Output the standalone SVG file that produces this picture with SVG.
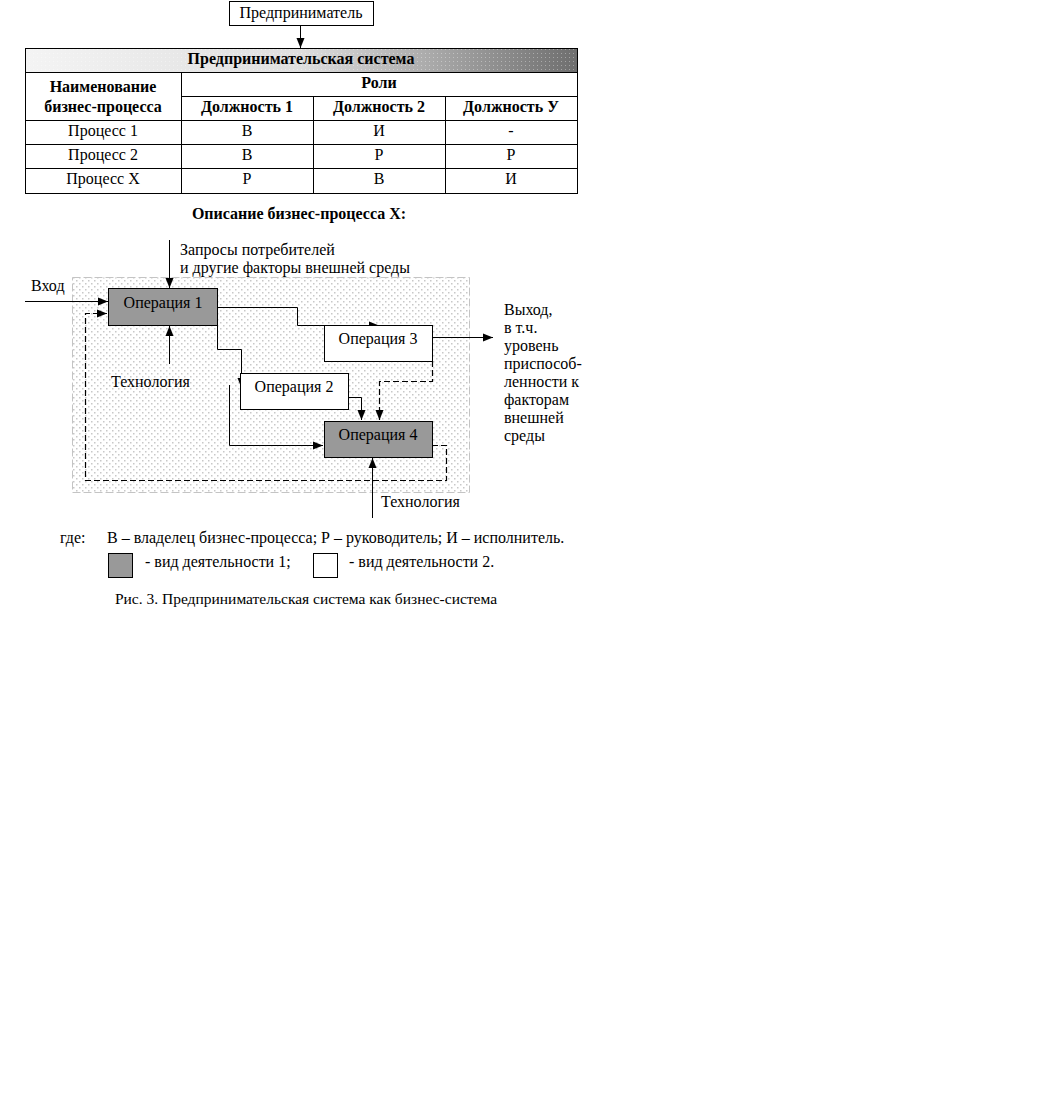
<svg xmlns="http://www.w3.org/2000/svg" width="1060" height="1102" viewBox="0 0 1060 1102">
<style>
text{font-family:"Liberation Serif","Times New Roman",serif;font-size:16px;fill:#000}
.b{font-weight:bold}
.c{text-anchor:middle}
.ln{stroke:#000;stroke-width:1;fill:none}
.dash{stroke:#000;stroke-width:1.2;fill:none;stroke-dasharray:6 3}
.op1{fill:#999;stroke:#000;stroke-width:1}
.op2{fill:#fff;stroke:#000;stroke-width:1}
</style>
<defs>
<pattern id="dots" width="6" height="6" patternUnits="userSpaceOnUse">
<rect x="1" y="1" width="1.5" height="1.5" fill="#c8c8c8"/>
<rect x="4" y="4" width="1.5" height="1.5" fill="#c8c8c8"/>
</pattern>
<pattern id="dots2" width="4" height="4" patternUnits="userSpaceOnUse">
<rect x="1" y="1" width="1" height="1" fill="#fff" fill-opacity="0.35"/>
</pattern>
<linearGradient id="hdr" x1="0" y1="0" x2="1" y2="0">
<stop offset="0" stop-color="#f4f4f4"/>
<stop offset="0.5" stop-color="#dedede"/>
<stop offset="1" stop-color="#6e6e6e"/>
</linearGradient>
<marker id="ar" viewBox="0 0 10 10" refX="10" refY="5" markerWidth="10" markerHeight="10" markerUnits="userSpaceOnUse" orient="auto">
<path d="M0,1 L10,5 L0,9 z" fill="#000"/>
</marker>
</defs>
<rect width="1060" height="1102" fill="#fff"/>

<g id="entrepreneur">
<rect x="229.5" y="1.5" width="144" height="24" fill="#fff" stroke="#000"/>
<text x="301" y="18" class="c">Предприниматель</text>
</g>

<g id="table">
<rect x="25.5" y="48.5" width="552" height="24" fill="url(#hdr)"/>
<rect x="25.5" y="48.5" width="552" height="24" fill="url(#dots2)"/>
<rect x="25.5" y="48.5" width="552" height="145" fill="none" stroke="#000"/>
<path class="ln" d="M25.5,72.5H577.5M181.5,96.5H577.5M25.5,120.5H577.5M25.5,144.5H577.5M25.5,168.5H577.5M181.5,72.5V193.5M313.5,96.5V193.5M445.5,96.5V193.5"/>
<text x="301" y="64" class="b c">Предпринимательская система</text>
<text x="103" y="92" class="b c">Наименование</text>
<text x="103" y="112" class="b c">бизнес-процесса</text>
<text x="379" y="88" class="b c">Роли</text>
<text x="247" y="112" class="b c">Должность 1</text>
<text x="379" y="112" class="b c">Должность 2</text>
<text x="511" y="112" class="b c">Должность У</text>
<text x="103" y="136" class="c">Процесс 1</text>
<text x="247" y="136" class="c">В</text>
<text x="379" y="136" class="c">И</text>
<text x="511" y="136" class="c">-</text>
<text x="103" y="160" class="c">Процесс 2</text>
<text x="247" y="160" class="c">В</text>
<text x="379" y="160" class="c">Р</text>
<text x="511" y="160" class="c">Р</text>
<text x="103" y="184" class="c">Процесс Х</text>
<text x="247" y="184" class="c">Р</text>
<text x="379" y="184" class="c">В</text>
<text x="511" y="184" class="c">И</text>
</g>

<text x="299" y="219" class="b c">Описание бизнес-процесса Х:</text>

<g id="area">
<rect x="72.5" y="277.5" width="397" height="215" fill="url(#dots)" stroke="#c4c4c4" stroke-dasharray="8 3"/>
</g>

<g id="connectors">
<path class="ln" d="M300.5,25.5V48" marker-end="url(#ar)"/>
<path class="ln" d="M169.5,240V288" marker-end="url(#ar)"/>
<path class="ln" d="M25,301.5H108" marker-end="url(#ar)"/>
<path class="ln" d="M169.5,364V326" marker-end="url(#ar)"/>
<path class="ln" d="M217,307.5H297.5V325.5H379" marker-end="url(#ar)"/>
<path class="ln" d="M217.5,325V349.5H241.5V388" marker-end="url(#ar)"/>
<path class="ln" d="M229.5,385V445.5H323" marker-end="url(#ar)"/>
<path class="ln" d="M348,397.5H361.5V420" marker-end="url(#ar)"/>
<path class="ln" d="M432,337.5H493" marker-end="url(#ar)"/>
<path class="ln" d="M372.5,518V458" marker-end="url(#ar)"/>
<path class="dash" d="M432.5,361V381.5H379.5V420" marker-end="url(#ar)"/>
<path class="dash" d="M432,445.5H446.5V480.5H85.5V313.5H107" marker-end="url(#ar)"/>
</g>

<g id="op1">
<rect x="108.5" y="288.5" width="109" height="37" class="op1"/>
<text x="163" y="308" class="c">Операция 1</text>
</g>
<g id="op3">
<rect x="324.5" y="325.5" width="108" height="36" class="op2"/>
<text x="378" y="344" class="c">Операция 3</text>
</g>
<g id="op2">
<rect x="240.5" y="373.5" width="108" height="36" class="op2"/>
<text x="294" y="392" class="c">Операция 2</text>
</g>
<g id="op4">
<rect x="324.5" y="421.5" width="108" height="36" class="op1"/>
<text x="378" y="440" class="c">Операция 4</text>
</g>

<g id="labels">
<text x="180" y="255">Запросы потребителей</text>
<text x="180" y="273">и другие факторы внешней среды</text>
<text x="31" y="291">Вход</text>
<text x="111" y="387">Технология</text>
<text x="381" y="507">Технология</text>
<text x="504" y="315">Выход,</text>
<text x="504" y="333">в т.ч.</text>
<text x="504" y="351">уровень</text>
<text x="504" y="369">приспособ-</text>
<text x="504" y="387">ленности к</text>
<text x="504" y="405">факторам</text>
<text x="504" y="423">внешней</text>
<text x="504" y="441">среды</text>
</g>

<g id="legend">
<text x="60" y="543">где:</text>
<text x="107" y="543">В – владелец бизнес-процесса; Р – руководитель; И – исполнитель.</text>
<rect x="108.5" y="553.5" width="24" height="24" class="op1"/>
<text x="145" y="567">- вид деятельности 1;</text>
<rect x="313.5" y="553.5" width="24" height="24" class="op2"/>
<text x="349" y="567">- вид деятельности 2.</text>
<text x="306" y="604" class="c" style="font-size:15.5px">Рис. 3. Предпринимательская система как бизнес-система</text>
</g>
</svg>
